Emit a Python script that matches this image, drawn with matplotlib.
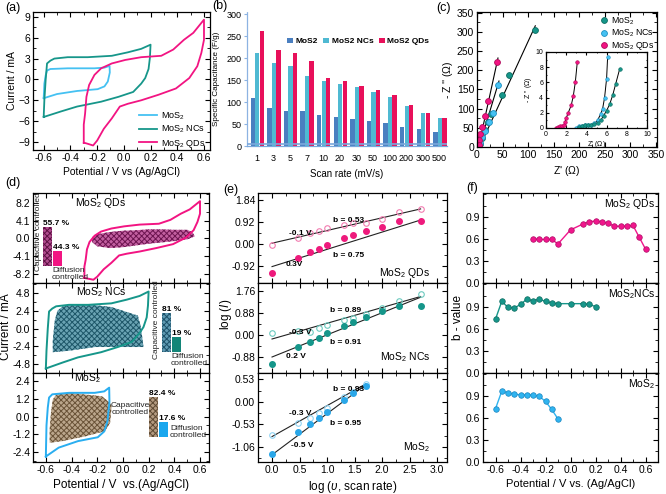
import matplotlib
matplotlib.use('Agg')
import matplotlib.pyplot as plt
from matplotlib.ticker import AutoMinorLocator, MultipleLocator, FixedLocator
import numpy as np

plt.rcParams.update({
    'font.family': ['Liberation Sans', 'DejaVu Sans'],
    'mathtext.fontset': 'custom',
    'mathtext.rm': 'Liberation Sans',
    'mathtext.it': 'Liberation Sans:italic',
    'mathtext.bf': 'Liberation Sans:bold',
    'hatch.linewidth': 0.7,
    'axes.linewidth': 0.9,
})

# ---------------- data ----------------
# (a) cyclic voltammograms (potential V, current mA)
mos2_v = [-0.60, -0.595, -0.585, -0.575, -0.55, -0.42, -0.22, -0.145, -0.107, -0.105, -0.12, -0.145, -0.196, -0.35, -0.50, -0.60]
mos2_i = [-2.7, -0.6, 0.6, 1.28, 1.5, 1.6, 1.6, 1.7, 1.95, 1.0, -0.3, -1.0, -1.4, -1.66, -2.1, -2.7]
nc_v = [-0.60, -0.595, -0.585, -0.575, -0.55, -0.52, -0.42, -0.27, -0.09, 0.03, 0.13, 0.20, 0.195, 0.185, 0.16, 0.13, 0.07, -0.04, -0.17, -0.35, -0.47, -0.60]
nc_i = [-5.4, -3.0, 0.0, 2.3, 2.7, 3.0, 3.2, 3.2, 3.4, 3.9, 4.4, 5.0, 3.1, 1.5, 0.2, -0.6, -1.8, -2.5, -3.2, -3.9, -4.6, -5.4]
qd_v = [-0.30, -0.30, -0.29, -0.28, -0.26, -0.22, -0.17, -0.09, 0.01, 0.13, 0.28, 0.37, 0.45, 0.52, 0.60,
        0.60, 0.58, 0.55, 0.49, 0.39, 0.26, 0.13, 0.03, -0.03, -0.09, -0.15, -0.20, -0.23, -0.28, -0.30]
qd_i = [-9.1, -6.5, -4.9, -2.5, -0.8, 0.65, 1.6, 2.3, 2.8, 3.2, 3.4, 4.3, 5.7, 6.7, 8.6,
        5.7, 3.8, 1.9, 0.2, -1.3, -2.2, -3.0, -3.5, -3.9, -5.6, -7.1, -8.8, -9.5, -9.2, -9.1]

# (b) specific capacitance vs scan rate
scan_rates = ['1', '3', '5', '7', '10', '20', '30', '50', '100', '200', '300', '500']
cap_mos2 = [110, 87, 80, 80, 71, 65, 62, 58, 52, 44, 38, 31]
cap_nc = [211, 188, 183, 160, 149, 142, 134, 124, 112, 92, 75, 63]
cap_qd = [261, 218, 211, 194, 155, 148, 137, 127, 117, 94, 75, 64]

# (c) Nyquist
c_mos2_x = [113, 62, 48, 28, 21, 15, 10, 6]
c_mos2_y = [305, 187, 136, 86, 64, 44, 24, 8]
c_nc_x = [42, 32, 24, 16, 10, 6]
c_nc_y = [162, 88, 65, 42, 25, 10]
c_qd_x = [40, 22, 16, 10, 6, 4, 3]
c_qd_y = [222, 120, 82, 52, 33, 18, 5]
fit_mos2_x, fit_mos2_y = [5, 114], [0, 316]
fit_nc_x, fit_nc_y = [4, 43], [0, 172]
fit_qd_x, fit_qd_y = [3, 41], [0, 232]
# inset
ci_qd_x = [1.0, 1.2, 1.4, 1.6, 1.8, 1.9, 2.0, 2.2, 2.5, 2.7, 2.9, 3.1]
ci_qd_y = [0.05, 0.15, 0.2, 0.25, 0.4, 0.8, 1.3, 2.0, 3.0, 4.2, 6.0, 8.7]
ci_nc_x = [3.0, 3.3, 3.6, 3.9, 4.2, 4.5, 4.8, 5.1, 5.4, 5.6, 5.8, 6.0, 6.1]
ci_nc_y = [0.05, 0.2, 0.3, 0.35, 0.4, 0.4, 0.6, 1.0, 1.8, 2.5, 4.0, 6.5, 9.3]
ci_mos2_x = [3.3, 3.6, 3.9, 4.2, 4.5, 4.8, 5.1, 5.4, 5.7, 6.0, 6.3, 6.6, 6.9, 7.3]
ci_mos2_y = [0.1, 0.3, 0.4, 0.45, 0.45, 0.5, 0.7, 1.0, 1.6, 2.3, 3.1, 4.3, 5.8, 7.8]

# (d) capacitive regions
qd_reg_v = [-0.24, -0.2, -0.1, 0.0, 0.1, 0.2, 0.3, 0.4, 0.5, 0.54, 0.56, 0.5, 0.4, 0.3, 0.2, 0.1, 0.0, -0.1, -0.2, -0.24]
qd_reg_i = [0.3, 1.0, 1.5, 1.8, 1.9, 2.1, 2.1, 2.0, 2.0, 1.5, 0.5, -0.2, -0.6, -0.9, -1.2, -1.6, -2.0, -2.2, -1.8, -0.8]
nc_reg_v = [-0.546, -0.53, -0.51, -0.47, -0.445, -0.29, -0.09, 0.116, 0.14, 0.16, 0.04, -0.215, -0.42, -0.546]
nc_reg_i = [-1.6, 1.1, 2.4, 3.0, 3.1, 3.3, 2.9, 1.75, 0.2, -2.5, -2.5, -2.5, -3.0, -3.2]
mos2_reg_v = [-0.546, -0.52, -0.42, -0.164, -0.1, -0.088, -0.1, -0.14, -0.29, -0.47, -0.57, -0.57, -0.56]
mos2_reg_i = [1.15, 1.48, 1.6, 1.37, 0.92, 0.69, -0.42, -0.99, -1.33, -1.66, -1.77, -0.88, 0.25]
frac_labels = ['Capacitive', 'Diffusion']
qd_frac = [55.7, 44.3]
nc_frac = [81, 19]
mos2_frac = [82.4, 17.6]

# (e) log(I) vs log(scan rate)
logv = [0, 0.477, 0.699, 0.845, 1.0, 1.301, 1.477, 1.699, 2.0, 2.301, 2.699]
e_qd_open = [-0.04, 0.26, 0.45, 0.54, 0.66, 0.78, 0.87, 0.87, 1.03, 1.32, 1.44]
e_qd_fill = [-1.2, -0.58, -0.33, -0.21, -0.04, 0.25, 0.37, 0.54, 0.70, 0.95, 0.95]
e_nc_open = [0.07, 0.17, 0.12, 0.28, 0.40, 0.60, 0.69, 0.84, 1.09, 1.36, 1.63]
e_nc_fill = [-1.17, -0.49, -0.27, -0.11, 0.07, 0.36, 0.53, 0.73, 0.96, 1.16, 1.16]
e_mos2_open = [-0.79, -0.50, -0.38, -0.27, -0.15, 0.11, 0.24, 0.42]
e_mos2_fill = [-1.23, -0.71, -0.53, -0.37, -0.23, 0.05, 0.20, 0.38]
fit_x_long, fit_x_short = [0, 2.7], [0, 1.7]
e_qd_open_fit, e_qd_fill_fit = [0.03, 1.45], [-0.94, 0.99]
e_nc_open_fit, e_nc_fill_fit = [-0.17, 1.53], [-0.89, 1.50]
e_mos2_open_fit, e_mos2_fill_fit = [-0.82, 0.42], [-1.25, 0.40]

# (f) b-value vs potential
f_qd_v = [-0.3, -0.25, -0.2, -0.15, -0.1, 0.0, 0.1, 0.15, 0.2, 0.25, 0.3, 0.35, 0.4, 0.45, 0.5, 0.55, 0.6]
f_qd_b = [0.60, 0.59, 0.59, 0.59, 0.53, 0.72, 0.80, 0.83, 0.84, 0.83, 0.81, 0.77, 0.77, 0.77, 0.78, 0.62, 0.46]
f_nc_v = [-0.6, -0.55, -0.5, -0.45, -0.4, -0.35, -0.3, -0.25, -0.2, -0.15, -0.1, 0.0, 0.1, 0.15, 0.2]
f_nc_b = [0.73, 0.97, 0.89, 0.88, 0.93, 1.00, 0.98, 1.00, 0.97, 0.95, 0.94, 0.94, 0.94, 0.93, 0.90]
f_mos2_v = [-0.6, -0.55, -0.5, -0.45, -0.4, -0.35, -0.3, -0.25, -0.2, -0.15, -0.1]
f_mos2_b = [0.73, 0.97, 0.95, 0.93, 0.92, 0.92, 0.92, 0.90, 0.83, 0.72, 0.59]

# ---------------- style ----------------
C_MOS2 = '#45c1f2'
C_NC = '#16968a'
C_QD = '#f21482'
W, H = 666, 494
fig = plt.figure(figsize=(6.66, 4.94), dpi=100)
M = r'MoS$_{2}$'
NARROW = ['Liberation Sans Narrow', 'Liberation Sans']


def box(l, t, r, b):
    return [l / W, 1 - b / H, (r - l) / W, (b - t) / H]


def origin(ax, xmin=2, ymin=2, ls=7.5):
    ax.tick_params(which='both', direction='in', top=True, right=True, labelsize=ls, pad=2)
    ax.tick_params(which='major', length=3.5, width=0.8)
    ax.tick_params(which='minor', length=2, width=0.6)
    ax.xaxis.set_minor_locator(AutoMinorLocator(xmin))
    ax.yaxis.set_minor_locator(AutoMinorLocator(ymin))


def ftext(x, y, s, **kw):
    fig.text(x / W, 1 - y / H, s, **kw)

# ---------------- (a) ----------------
ax = fig.add_axes(box(33, 12, 210, 150))
ax.plot(mos2_v, mos2_i, color=C_MOS2, lw=1.3, label=M)
ax.plot(nc_v, nc_i, color=C_NC, lw=1.3, label=M + ' NCs')
ax.plot(qd_v, qd_i, color=C_QD, lw=1.3, label=M + ' QDs')
ax.set_xlim(-0.68, 0.645)
ax.set_ylim(-10.15, 9.7)
ax.xaxis.set_major_locator(FixedLocator([-0.6, -0.4, -0.2, 0.0, 0.2, 0.4, 0.6]))
ax.yaxis.set_major_locator(MultipleLocator(3))
origin(ax)
ax.set_xticklabels(['-0.6', '-0.4', '-0.2', '0.0', '0.2', '0.4', '0.6'])
ax.set_xlabel('Potential / V vs (Ag/AgCl)', fontsize=7.5, labelpad=3)
ax.set_ylabel('Current / mA', fontsize=7.5, labelpad=1)
ax.legend(loc='lower right', bbox_to_anchor=(1.0, -0.03), frameon=False, fontsize=6.5,
          handlelength=2.0, labelspacing=0.25, borderaxespad=0.1, handletextpad=0.4)
ftext(5, 11, '(a)', fontsize=9)

# ---------------- (b) ----------------
ax = fig.add_axes(box(247, 12, 447, 146))
xb = np.arange(len(scan_rates))
ax.bar(xb - 0.25, cap_mos2, 0.26, color='#4a7fc0', label='MoS2', zorder=2)
ax.bar(xb + 0.02, cap_nc, 0.26, color='#4fb9d2', label='MoS2 NCs', zorder=2)
ax.bar(xb + 0.29, cap_qd, 0.26, color='#e8105a', label='MoS2 QDs', zorder=2)
ax.axhline(4, color='#7aa8dc', lw=1.2, zorder=3)
ax.set_xlim(-0.6, 11.45)
ax.set_ylim(0, 305)
ax.set_xticks(xb)
ax.set_xticklabels(scan_rates)
ax.set_yticks(range(0, 301, 50))
for s in ['top', 'right']:
    ax.spines[s].set_visible(False)
ax.spines['left'].set_color('#8db3e2')
ax.spines['left'].set_linestyle((0, (1, 1)))
ax.spines['bottom'].set_color('#7aa8dc')
ax.tick_params(axis='x', length=0, labelsize=6.5, pad=6)
ax.tick_params(axis='y', length=2, color='#8db3e2', labelsize=6.5, pad=2)
for lab in ax.get_xticklabels() + ax.get_yticklabels():
    lab.set_family(NARROW)
ax.set_xlabel('Scan rate (mV/s)', fontsize=7, family=NARROW, labelpad=4)
ax.set_ylabel('Specific Capacitance (F/g)', fontsize=5.8, labelpad=5)
ax.legend(loc='center right', bbox_to_anchor=(0.95, 0.78), ncol=3, frameon=False,
          handlelength=0.7, handletextpad=0.3, columnspacing=0.7,
          prop={'size': 6.0, 'weight': 'bold', 'family': NARROW})
ftext(212, 9, '(b)', fontsize=9)

# ---------------- (c) ----------------
ax = fig.add_axes(box(477, 12, 657, 147))
mk = dict(ls='none', marker='o', ms=4.2, mew=0.6)
ax.plot(fit_mos2_x, fit_mos2_y, color='k', lw=0.8)
ax.plot(fit_nc_x, fit_nc_y, color='k', lw=0.8)
ax.plot(fit_qd_x, fit_qd_y, color='k', lw=0.8)
ax.plot(c_mos2_x, c_mos2_y, color=C_NC, mec='#0d6b60', label=M, **mk)
ax.plot(c_nc_x, c_nc_y, color=C_MOS2, mec='#1c8fc0', label=M + ' NCs', **mk)
ax.plot(c_qd_x, c_qd_y, color=C_QD, mec='#b00c5c', label=M + ' QDs', **mk)
ax.set_xlim(0, 352)
ax.set_ylim(0, 352)
ax.xaxis.set_major_locator(MultipleLocator(50))
ax.yaxis.set_major_locator(MultipleLocator(50))
origin(ax)
ax.set_xlabel("Z' ($\\Omega$)", fontsize=7.5, labelpad=3)
ax.set_ylabel("- Z '' ($\\Omega$)", fontsize=7.5, labelpad=1)
ax.legend(loc='upper right', frameon=False, fontsize=6.3, handlelength=0.8, labelspacing=0.12,
          borderaxespad=0.15, handletextpad=0.4, borderpad=0.2)
ftext(436, 11, '(c)', fontsize=9)

axi = fig.add_axes(box(546, 52, 647, 128))
mk2 = dict(ls='none', marker='o', ms=2.6, mew=0.4)
axi.plot(ci_qd_x, ci_qd_y, color='k', lw=0.7)
axi.plot(ci_nc_x, ci_nc_y, color='k', lw=0.7)
axi.plot(ci_mos2_x, ci_mos2_y, color='k', lw=0.7)
axi.plot(ci_qd_x, ci_qd_y, color=C_QD, mec='#b00c5c', **mk2)
axi.plot(ci_nc_x, ci_nc_y, color=C_MOS2, mec='#1c8fc0', **mk2)
axi.plot(ci_mos2_x, ci_mos2_y, color=C_NC, mec='#0d6b60', **mk2)
axi.set_xlim(0, 10)
axi.set_ylim(0, 10)
axi.xaxis.set_major_locator(MultipleLocator(2))
axi.yaxis.set_major_locator(MultipleLocator(2))
origin(axi, ls=5)
axi.tick_params(which='major', length=2)
axi.tick_params(which='minor', length=1)
axi.set_xlabel("Z' ($\\Omega$)", fontsize=5, labelpad=1)
axi.set_ylabel("- Z '' ($\\Omega$)", fontsize=5, labelpad=1)

# ---------------- (d) ----------------
rows = [(193, 283), (283, 373), (373, 462)]
d_cfg = [
    dict(v=qd_v, i=qd_i, col=C_QD, rv=qd_reg_v, ri=qd_reg_i, fc='#c25fa0', hc='#6d1450',
         ylim=(-10.25, 10.48), ticks=[-8.2, -4.1, 0.0, 4.1, 8.2], title=M + ' QDs', tx=101, ty=203),
    dict(v=nc_v, i=nc_i, col=C_NC, rv=nc_reg_v, ri=nc_reg_i, fc='#6aa3b3', hc='#1d5668',
         ylim=(-6.01, 6.15), ticks=[-4.8, -2.4, 0.0, 2.4, 4.8], title=M + ' NCs', tx=101, ty=292),
    dict(v=mos2_v, i=mos2_i, col='#2aaef0', rv=mos2_reg_v, ri=mos2_reg_i, fc='#bba68c', hc='#6a5338',
         ylim=(-3.07, 2.94), ticks=[-2.4, -1.2, 0.0, 1.2, 2.4], title=M, tx=88, ty=378),
]
for k, (cfg, (t, b)) in enumerate(zip(d_cfg, rows)):
    ax = fig.add_axes(box(33, t, 209, b))
    ax.fill(cfg['rv'], cfg['ri'], facecolor=cfg['fc'], edgecolor=cfg['hc'], hatch='xxxxxx', lw=0)
    ax.plot(cfg['v'], cfg['i'], color=cfg['col'], lw=1.4)
    ax.set_xlim(-0.70, 0.67)
    ax.set_ylim(*cfg['ylim'])
    ax.set_yticks(cfg['ticks'])
    ax.set_yticklabels(['%.1f' % v for v in cfg['ticks']])
    ax.xaxis.set_major_locator(FixedLocator([-0.6, -0.4, -0.2, 0.0, 0.2, 0.4, 0.6]))
    origin(ax, ls=7.5)
    if k < 2:
        ax.tick_params(axis='x', labelbottom=False)
    else:
        ax.set_xticklabels(['-0.6', '-0.4', '-0.2', '0.0', '0.2', '0.4', '0.6'])
        ax.set_xlabel('Potential / V  vs.(Ag/AgCl)', fontsize=8.5, labelpad=3)
    ftext(cfg['tx'], cfg['ty'], cfg['title'], fontsize=7.5, ha='center', va='center')
ftext(6, 327, 'Current / mA', fontsize=8.5, rotation=90, ha='center', va='center')
ftext(5, 186, '(d)', fontsize=9)

# inset bar charts
ins = [
    dict(box=(38, 215, 66, 265.7), xl=(-1.0, 1.9), yl=(37.4, 61.2), vals=qd_frac, fc='#b04c8e', hc='#5e1043',
         c2=C_QD, l1='55.7 %', l2='44.3 %'),
    dict(box=(156, 300, 186, 351.7), xl=(-1.01, 1.96), yl=(-17.3, 113), vals=nc_frac, fc='#5f9ab2', hc='#1c5068',
         c2='#138578', l1='81 %', l2='19 %'),
    dict(box=(144, 385, 174, 436.7), xl=(-0.97, 2.03), yl=(-21.3, 112.7), vals=mos2_frac, fc='#b39a80', hc='#5e4a34',
         c2='#1aa7ee', l1='82.4 %', l2='17.6 %'),
]
for cfg in ins:
    axb = fig.add_axes(box(*cfg['box']))
    axb.bar([0], [cfg['vals'][0] - cfg['yl'][0]], 0.92, bottom=cfg['yl'][0], facecolor=cfg['fc'],
            edgecolor=cfg['hc'], hatch='xxxxxx', lw=0)
    axb.bar([1], [cfg['vals'][1] - cfg['yl'][0]], 0.92, bottom=cfg['yl'][0], color=cfg['c2'], lw=0)
    axb.set_xlim(*cfg['xl'])
    axb.set_ylim(*cfg['yl'])
    axb.axis('off')
    axb.text(-0.46, cfg['vals'][0], cfg['l1'], fontsize=6, weight='bold', ha='left', va='bottom')
    axb.text(0.55, cfg['vals'][1], cfg['l2'], fontsize=6, weight='bold', ha='left', va='bottom')
    axb.set_zorder(5)

tk = dict(fontsize=6, color='#222222')
ftext(38.5, 232, 'Capacitive controlled', rotation=90, ha='center', va='center', **tk)
ftext(52, 267, 'Diffusion\ncontrolled', ha='left', va='top', linespacing=1.0, **tk)
ftext(156.5, 320, 'Capacitive controlled', rotation=90, ha='center', va='center', **tk)
ftext(171, 353, 'Diffusion\ncontrolled', ha='left', va='top', linespacing=1.0, **tk)
ftext(130, 409, 'Capacitive\ncontrolled', ha='center', va='center', linespacing=1.0, **tk)
ftext(170, 432, 'Diffusion\ncontrolled', ha='left', va='center', linespacing=1.0, **tk)

# ---------------- (e) ----------------
e_cfg = [
    dict(op=e_qd_open, fi=e_qd_fill, x=logv, fx=fit_x_long, of=e_qd_open_fit, ff=e_qd_fill_fit,
         col='#ee1a7c', ocol='#f27cb0', ylim=(-1.62, 2.11), ticks=[-0.92, 0.0, 0.92, 1.84],
         txt=[(0.3, 0.45, '-0.1 V'), (1.1, 0.99, 'b = 0.53'), (0.25, -0.85, '0.3V'), (1.1, -0.47, 'b = 0.75')],
         name=M + ' QDs', ny=-1.22),
    dict(op=e_nc_open, fi=e_nc_fill, x=logv, fx=fit_x_long, of=e_nc_open_fit, ff=e_nc_fill_fit,
         col='#15968a', ocol='#6ccabf', ylim=(-1.53, 2.07), ticks=[-0.88, 0.0, 0.88, 1.76],
         txt=[(0.3, 0.1, '-0.3 V'), (1.05, 0.96, 'b = 0.89'), (0.25, -0.88, '0.2 V'), (1.05, -0.3, 'b = 0.91')],
         name=M + ' NCs', ny=-0.88),
    dict(op=e_mos2_open, fi=e_mos2_fill, x=logv[:8], fx=fit_x_short, of=e_mos2_open_fit, ff=e_mos2_fill_fit,
         col='#2aa7e8', ocol='#8fd3f3', ylim=(-1.42, 0.68), ticks=[-1.06, -0.53, 0.0, 0.53],
         txt=[(1.1, 0.28, 'b = 0.93'), (0.3, -0.27, '-0.3 V'), (1.05, -0.5, 'b = 0.95'), (0.35, -1.02, '-0.5 V')],
         name=M, ny=-1.08),
]
for k, (cfg, (t, b)) in enumerate(zip(e_cfg, rows)):
    ax = fig.add_axes(box(258, t, 447, b))
    ax.plot(cfg['fx'], cfg['of'], color='#222222', lw=0.8)
    ax.plot(cfg['fx'], cfg['ff'], color='#222222', lw=0.8)
    ax.plot(cfg['x'], cfg['op'], ls='none', marker='o', ms=4, mfc='none', mec=cfg['ocol'], mew=0.8)
    ax.plot(cfg['x'], cfg['fi'], ls='none', marker='o', ms=4, mfc=cfg['col'], mec=cfg['col'])
    ax.set_xlim(-0.255, 3.18)
    ax.set_ylim(*cfg['ylim'])
    ax.set_yticks(cfg['ticks'])
    ax.set_yticklabels(['%.2f' % v for v in cfg['ticks']])
    ax.xaxis.set_major_locator(MultipleLocator(0.5))
    origin(ax, ls=7.5)
    for (x, y, s) in cfg['txt']:
        ax.text(x, y, s, fontsize=6, weight='bold', ha='left', va='center')
    ax.text(2.88, cfg['ny'], cfg['name'], fontsize=7.5, ha='right', va='center')
    if k < 2:
        ax.tick_params(axis='x', labelbottom=False)
    else:
        ax.set_xlabel('log ($\\upsilon$, scan rate)', fontsize=8.5, labelpad=3)
ftext(226, 314, 'log ($\\mathit{I}$)', fontsize=8.5, rotation=90, ha='center', va='center')
ftext(223, 193, '(e)', fontsize=9)

# ---------------- (f) ----------------
f_cfg = [
    dict(v=f_qd_v, b=f_qd_b, col='#f0168c', mec='#b00d66', name=M + ' QDs'),
    dict(v=f_nc_v, b=f_nc_b, col='#17968a', mec='#0c6b60', name=M + 'NCs'),
    dict(v=f_mos2_v, b=f_mos2_b, col='#2fb4f0', mec='#1a85bf', name=M),
]
for k, (cfg, (t, b)) in enumerate(zip(f_cfg, rows)):
    ax = fig.add_axes(box(483, t, 658, b))
    ax.plot(cfg['v'], cfg['b'], color=cfg['col'], lw=1.0, marker='o', ms=4, mfc=cfg['col'],
            mec=cfg['mec'], mew=0.5)
    ax.set_xlim(-0.7, 0.7)
    ax.set_ylim(0, 1.22)
    ax.set_yticks([0.0, 0.3, 0.6, 0.9])
    ax.set_yticklabels(['0.0', '0.3', '0.6', '0.9'])
    ax.xaxis.set_major_locator(FixedLocator([-0.6, -0.4, -0.2, 0.0, 0.2, 0.4, 0.6]))
    origin(ax, ls=7.5)
    ax.text(0.68, 1.07, cfg['name'], fontsize=7.5, ha='right', va='center')
    if k < 2:
        ax.tick_params(axis='x', labelbottom=False)
    else:
        ax.set_xticklabels(['-0.6', '-0.4', '-0.2', '0.0', '0.2', '0.4', '0.6'])
        ax.set_xlabel('Potential / V vs. (Ag/AgCl)', fontsize=8, labelpad=3)
ftext(458, 318, 'b - value', fontsize=8.5, rotation=90, ha='center', va='center')
ftext(466, 191, '(f)', fontsize=9)

fig.savefig('out.png', dpi=100)
